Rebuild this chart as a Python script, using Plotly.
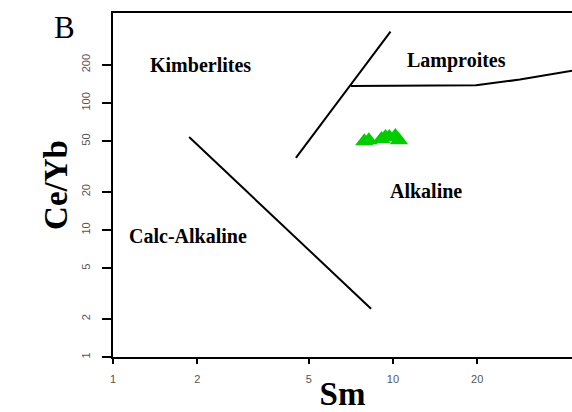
import math
import plotly.graph_objects as go

# Sample data (Sm vs Ce/Yb)
sm = [7.9, 8.2, 9.1, 9.4, 9.7, 10.2, 10.5]
ce_yb = [50, 51, 52, 54, 54, 55, 51]

# Discrimination boundary lines
calc_x = [1.87, 8.35]
calc_y = [54, 2.4]
kimb_x = [4.5, 9.8]
kimb_y = [37, 365]
lamp_x = [7.08, 19.8, 28.4, 45]
lamp_y = [136, 138, 153, 182]

# Field labels
field_names = ["Kimberlites", "Lamproites", "Alkaline", "Calc-Alkaline"]
field_x = [2.06, 16.8, 13.1, 1.85]
field_y = [199, 218, 20.3, 8.97]

x_ticks = [1, 2, 5, 10, 20]
y_ticks = [1, 2, 5, 10, 20, 50, 100, 200]

fig = go.Figure()
line_style = dict(color="black", width=2)
for xs, ys in [(calc_x, calc_y), (kimb_x, kimb_y), (lamp_x, lamp_y)]:
    fig.add_trace(go.Scatter(x=xs, y=ys, mode="lines", line=line_style,
                             showlegend=False, hoverinfo="skip"))

fig.add_trace(go.Scatter(x=sm, y=ce_yb, mode="markers",
                         marker=dict(symbol="triangle-up", size=16, color="#00CC00",
                                     line=dict(width=0)),
                         showlegend=False))

for name, fx, fy in zip(field_names, field_x, field_y):
    fig.add_annotation(x=math.log10(fx), y=math.log10(fy), xref="x", yref="y",
                       text=f"<b>{name}</b>", showarrow=False,
                       font=dict(family="Liberation Serif", size=20, color="black"))

fig.add_annotation(x=(64 - 113) / 459, y=(412 - 55 - 28) / 344, xref="paper", yref="paper",
                   text="B", showarrow=False, xanchor="center", yanchor="middle",
                   font=dict(family="Liberation Serif", size=31, color="black"))

fig.update_layout(
    width=572, height=412,
    margin=dict(l=113, r=0, t=13, b=55),
    paper_bgcolor="white", plot_bgcolor="white",
    xaxis=dict(type="log", range=[0, math.log10(43.6)], tickvals=x_ticks,
               ticktext=[str(v) for v in x_ticks],
               showgrid=False, zeroline=False, showline=True, linecolor="black",
               linewidth=2, mirror=True, ticks="outside", ticklen=5, tickwidth=1.5,
               tickcolor="black", ticklabelstandoff=6,
               tickfont=dict(family="Liberation Sans", size=11, color="#555555"),
               title=dict(text="<b>Sm</b>", standoff=2,
                          font=dict(family="Liberation Serif", size=33, color="black"))),
    yaxis=dict(type="log", range=[0, 2.709], tickvals=y_ticks,
               ticktext=[str(v) for v in y_ticks], tickangle=-90,
               showgrid=False, zeroline=False, showline=True, linecolor="black",
               linewidth=2, mirror=False, ticks="outside", ticklen=9, tickwidth=1.5,
               tickcolor="black", ticklabelstandoff=8,
               tickfont=dict(family="Liberation Sans", size=11, color="#555555"),
               title=dict(text="<b>Ce/Yb</b>", standoff=2,
                          font=dict(family="Liberation Serif", size=33, color="black"))),
)

fig.write_html("out.html")
